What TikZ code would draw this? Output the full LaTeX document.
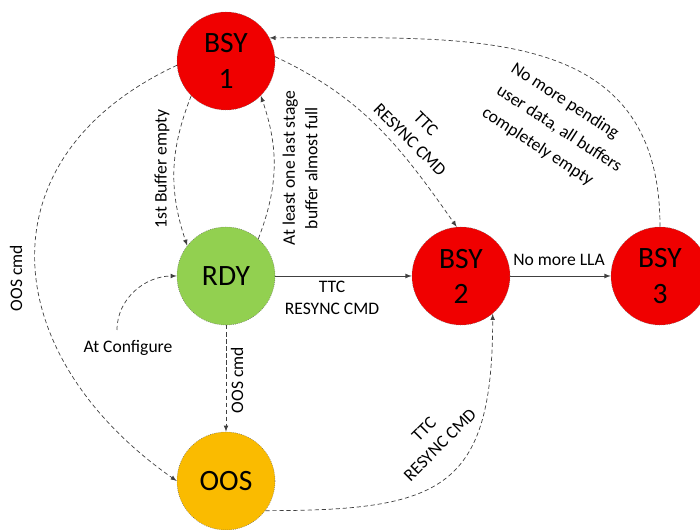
\documentclass[tikz,border=0pt]{standalone}
\usepackage{fontspec}
\setmainfont{Carlito}
\usepackage{tikz}
\usetikzlibrary{arrows}
\definecolor{c0}{HTML}{F00000}
\definecolor{c1}{HTML}{92D050}
\definecolor{c2}{HTML}{FABB00}
\definecolor{c3}{HTML}{404040}

\begin{document}
\begin{tikzpicture}[scale=1.0,
  circ/.style={circle,minimum size=2.45cm,inner sep=0pt,draw=black!60,densely dotted,font=\fontsize{21}{25}\selectfont,align=center},
  lnk/.style={-latex,draw=c3,densely dashed,line width=0.5pt},
  sol/.style={-latex,draw=c3,line width=0.6pt},
  lbl/.style={font=\fontsize{12.5}{16}\selectfont,align=center,inner sep=1pt}]

\useasboundingbox (0,0) rectangle (17.5,13.225);

% states
\node[circ,fill=c0] (b1) at (5.65,11.70) {BSY\\1};
\node[circ,fill=c1] (rdy) at (5.65,6.325) {RDY};
\node[circ,fill=c0] (b2) at (11.525,6.325) {BSY\\2};
\node[circ,fill=c0] (b3) at (16.5,6.325) {BSY\\3};
\node[circ,fill=c2] (oos) at (5.65,1.20) {OOS};

% transitions
\draw[lnk] (b1.225) to[bend right=20] (rdy.142);
\draw[lnk] (rdy.49) to[bend right=20] (b1.-45);
\draw[lnk] (b1.5) to[out=-25,in=125] (b2.95);
\draw[lnk] (b3.north) to[out=90,in=0,looseness=1.2] (b1.28);
\draw[sol] (rdy) -- (b2);
\draw[sol] (b2) -- (b3);
\draw[lnk] (b1.185) to[out=205,in=145,looseness=1.35] (oos.west);
\draw[lnk] (rdy) -- (oos);
\draw[lnk] (oos.-37) to[out=0,in=-90,looseness=1.5] (b2.-50);

% start
\node[font=\fontsize{12.5}{16}\selectfont] (cfg) at (3.2,4.525) {At Configure};
\coordinate (cfg0) at (2.925,4.975);
\draw[lnk] (cfg0) to[out=90,in=180] (rdy.west);

% labels
\node[lbl,rotate=90] (t1) at (4.05,9.0) {1st Buffer empty};
\node[lbl,rotate=90] (t2) at (7.5,9.025) {At least one last stage\\buffer almost full};
\node[lbl,rotate=-45] (t3) at (10.45,9.925) {TTC\\RESYNC CMD};
\node[lbl,rotate=-33,align=left,font=\fontsize{12.5}{19}\selectfont] (t4) at (13.975,10.0) {No more pending\\user data, all buffers\\completely empty};
\node[lbl] (t5) at (8.3,5.775) {TTC\\RESYNC CMD};
\node[lbl] (t6) at (13.975,6.725) {No more LLA};
\node[lbl,rotate=90] (t7) at (0.4,6.275) {OOS cmd};
\node[lbl,rotate=90] (t8) at (5.925,3.725) {OOS cmd};
\node[lbl,rotate=45] (t9) at (10.8,2.3) {TTC\\RESYNC CMD};

\end{tikzpicture}
\end{document}
